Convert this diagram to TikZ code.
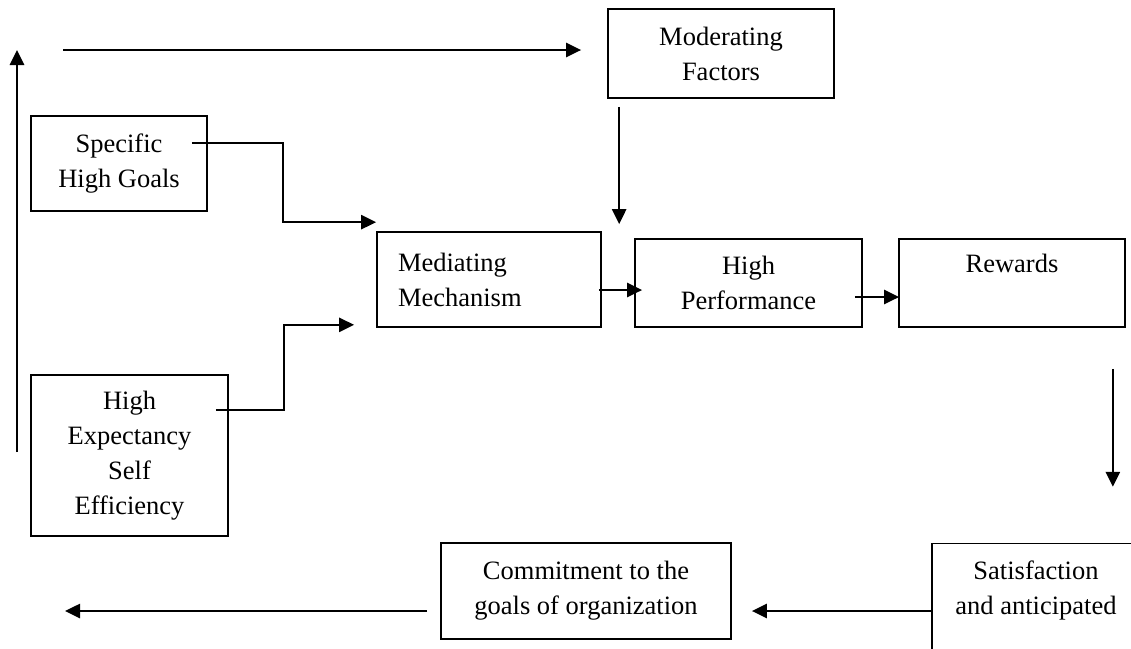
\documentclass[tikz,border=0pt]{standalone}
\usepackage{fontspec}
\setmainfont{Liberation Serif}
\usetikzlibrary{arrows.meta}
\begin{document}
\begin{tikzpicture}
  [x=1pt,y=-1pt,
   box/.style={draw,line width=1.7pt,align=center,inner sep=0pt,font=\fontsize{26.5}{35}\selectfont},
   arr/.style={-{Triangle[length=15pt,width=14pt]},line width=2.6pt}]
  \useasboundingbox (0,0) rectangle (1131,648);
  \node[box,minimum width=226pt,minimum height=89pt] (moder) at (721,53.5) {Moderating\\Factors};
  \node[box,minimum width=176pt,minimum height=95pt] (spec) at (119,163.5) {Specific\\High Goals};
  \node[box,minimum height=95pt,text width=182pt,align=left,inner xsep=21pt] (mediat) at (489,279.5) {Mediating\\Mechanism};
  \node[box,minimum width=227pt,minimum height=88pt] (perf) at (748.5,283) {High\\Performance};
  \node[box,minimum width=226pt,minimum height=88pt] (rew) at (1012,283) {\strut Rewards\\\strut};
  \node[box,minimum width=197pt,minimum height=161pt] (expect) at (129.5,455.5) {High\\Expectancy\\Self\\Efficiency};
  \node[box,minimum width=290pt,minimum height=96pt] (commit) at (586,591) {Commitment to the\\goals of organization};
  \node[box,minimum width=208pt,minimum height=162pt] (sat) at (1036,624.5) {\strut Satisfaction\\\strut and anticipated\\\strut\\\strut};

  \coordinate (topstart) at (63,50);
  \coordinate (leftbot) at (17,452);
  \coordinate (lefttop) at (17,50);
  \coordinate (outleft) at (65,611);

  \draw[arr] ([shift={(-16,-20.5)}]spec.east) -| ([shift={(-93,-9)}]mediat.north west) -- ([shift={(0,-9)}]mediat.north west);
  \draw[arr] ([shift={(-13,-45.5)}]expect.east) -| ([shift={(-92,-3)}]mediat.south west) -- ([shift={(-22,-3)}]mediat.south west);
  \path[arr]
        (topstart) edge ([shift={(-26,-3.5)}]moder.west)
        (leftbot) edge (lefttop)
        ([shift={(12,8)}]moder.south west) edge ([shift={(-15,-14)}]perf.north west)
        ([shift={(-3,10.5)}]mediat.east) edge ([shift={(8,7)}]perf.west)
        ([shift={(-8,14)}]perf.east) edge ([shift={(1,14)}]rew.west)
        ([shift={(-13,41)}]rew.south east) edge ([shift={(-13,159)}]rew.south east)
        ([shift={(0,-13.5)}]sat.west) edge ([shift={(20,20)}]commit.east)
        ([shift={(-13,20)}]commit.west) edge (outleft);

\end{tikzpicture}
\end{document}
